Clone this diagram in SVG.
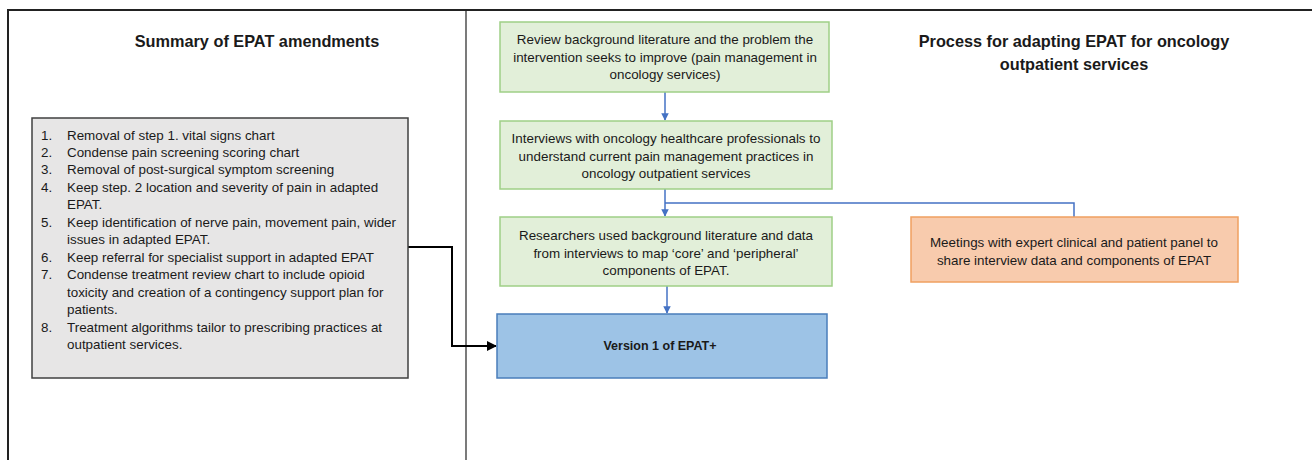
<svg xmlns="http://www.w3.org/2000/svg" width="1312" height="460" viewBox="0 0 1312 460">
  <style>
    text { font-family: "Liberation Sans", Arial, sans-serif; fill: #1a1a1a; }
    .title { font-size: 16.3px; font-weight: bold; text-anchor: middle; }
    .body { font-size: 13.4px; }
    .mid { text-anchor: middle; }
    .green { fill: #e2efd9; stroke: #9fcf86; stroke-width: 1.5; }
    .blue { fill: #9dc3e6; stroke: #4a7ebb; stroke-width: 1.5; }
    .orange { fill: #f8cbad; stroke: #f0a060; stroke-width: 1.5; }
    .grey { fill: #e7e6e6; stroke: #404040; stroke-width: 1.5; }
    .flow { fill: none; stroke: #4472c4; stroke-width: 1.5; }
    .link { fill: none; stroke: #000; stroke-width: 2; }
  </style>
  <defs>
    <marker id="arrowBlue" viewBox="0 0 10 10" refX="9" refY="5" markerWidth="5" markerHeight="5" orient="auto">
      <path d="M0,0 L10,5 L0,10 z" fill="#4472c4"/>
    </marker>
    <marker id="arrowBlack" viewBox="0 0 10 10" refX="9" refY="5" markerWidth="5" markerHeight="5" orient="auto">
      <path d="M0,0 L10,5 L0,10 z" fill="#000"/>
    </marker>
  </defs>

  <rect width="1312" height="460" fill="#fff"/>

  <!-- frame and column divider -->
  <g id="frame" fill="none" stroke="#222">
    <path d="M8,460 V10 H1312" stroke-width="2"/>
    <line x1="466" y1="10" x2="466" y2="460" stroke-width="1.2"/>
  </g>

  <!-- column headings -->
  <g id="headings">
    <text class="title" x="257" y="47">Summary of EPAT amendments</text>
    <text class="title" x="1074" y="47">Process for adapting EPAT for oncology</text>
    <text class="title" x="1074" y="70">outpatient services</text>
  </g>

  <!-- connectors -->
  <g id="connectors">
    <line class="flow" x1="665" y1="92" x2="665" y2="120" marker-end="url(#arrowBlue)"/>
    <line class="flow" x1="665" y1="189" x2="665" y2="216" marker-end="url(#arrowBlue)"/>
    <path class="flow" d="M665,203 H1074 V217"/>
    <line class="flow" x1="667" y1="286" x2="667" y2="313" marker-end="url(#arrowBlue)"/>
    <path class="link" d="M408,247 H452 V346 H496" marker-end="url(#arrowBlack)"/>
  </g>

  <g id="amendments">
    <rect class="grey" x="32" y="118" width="376" height="260"/>
    <g class="body">
      <text x="41" y="140">1.</text><text x="67" y="140">Removal of step 1. vital signs chart</text>
      <text x="41" y="157">2.</text><text x="67" y="157">Condense pain screening scoring chart</text>
      <text x="41" y="174">3.</text><text x="67" y="174">Removal of post-surgical symptom screening</text>
      <text x="41" y="192">4.</text><text x="67" y="192">Keep step. 2 location and severity of pain in adapted</text>
      <text x="67" y="209">EPAT.</text>
      <text x="41" y="227">5.</text><text x="67" y="227">Keep identification of nerve pain, movement pain, wider</text>
      <text x="67" y="244">issues in adapted EPAT.</text>
      <text x="41" y="262">6.</text><text x="67" y="262">Keep referral for specialist support in adapted EPAT</text>
      <text x="41" y="279">7.</text><text x="67" y="279">Condense treatment review chart to include opioid</text>
      <text x="67" y="297">toxicity and creation of a contingency support plan for</text>
      <text x="67" y="314">patients.</text>
      <text x="41" y="332">8.</text><text x="67" y="332">Treatment algorithms tailor to prescribing practices at</text>
      <text x="67" y="349">outpatient services.</text>
    </g>
  </g>

  <g id="review">
    <rect class="green" x="500" y="22" width="329" height="70"/>
    <text class="body mid" x="665" y="44">Review background literature and the problem the</text>
    <text class="body mid" x="665" y="62">intervention seeks to improve (pain management in</text>
    <text class="body mid" x="665" y="79">oncology services)</text>
  </g>

  <g id="interviews">
    <rect class="green" x="500" y="121" width="332" height="68"/>
    <text class="body mid" x="666" y="143">Interviews with oncology healthcare professionals to</text>
    <text class="body mid" x="666" y="161">understand current pain management practices in</text>
    <text class="body mid" x="666" y="178">oncology outpatient services</text>
  </g>

  <g id="mapping">
    <rect class="green" x="500" y="217" width="332" height="69"/>
    <text class="body mid" x="666" y="240">Researchers used background literature and data</text>
    <text class="body mid" x="666" y="258">from interviews to map ‘core’ and ‘peripheral’</text>
    <text class="body mid" x="666" y="275">components of EPAT.</text>
  </g>

  <g id="panel">
    <rect class="orange" x="911" y="217" width="327" height="65"/>
    <text class="body mid" x="1074" y="247">Meetings with expert clinical and patient panel to</text>
    <text class="body mid" x="1074" y="265">share interview data and components of EPAT</text>
  </g>

  <g id="version1">
    <rect class="blue" x="497" y="314" width="330" height="64"/>
    <text class="mid" x="660" y="350" font-size="12.5" font-weight="bold">Version 1 of EPAT+</text>
  </g>
</svg>
